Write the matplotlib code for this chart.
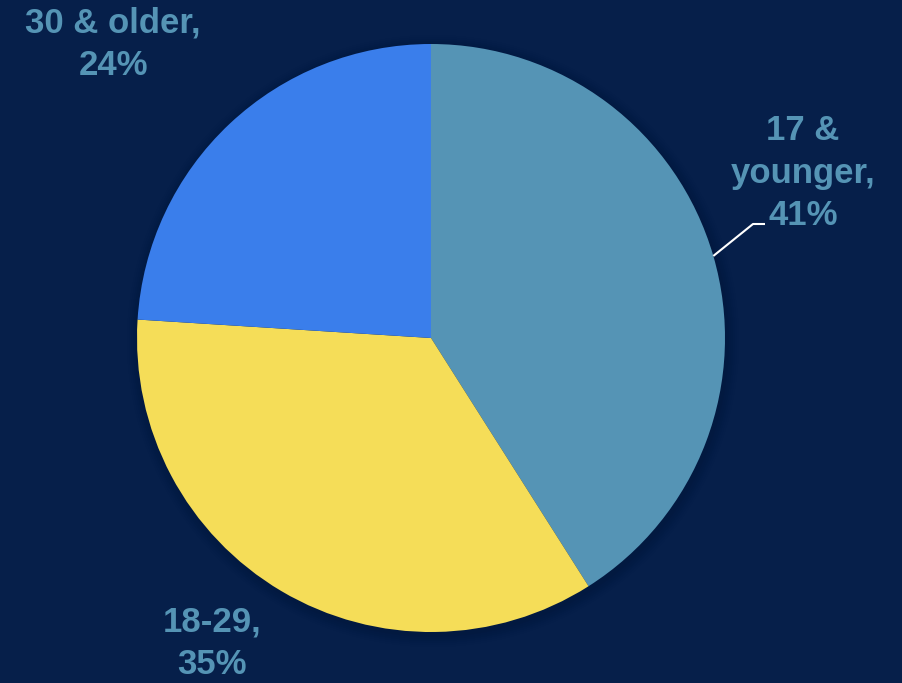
import numpy as np
import matplotlib.pyplot as plt

groups = ['17 &\nyounger', '18-29', '30 & older']
shares = [41, 35, 24]
colors = ['#5594B5', '#F5DD58', '#3A7EEB']
bg = '#061F4A'
label_color = '#5594B5'

fig = plt.figure(figsize=(9.02, 6.83), dpi=100, facecolor=bg)
ax = fig.add_axes([0, 0, 1, 1])
ax.set_facecolor(bg)

cx, cy, r = 431, 345, 294

# soft dark halo behind the pie
for i, a in enumerate(np.linspace(0.05, 0.01, 6)):
    ax.add_patch(plt.Circle((cx + 2, cy - 3), r + 2 + i * 2, color='#020C22', alpha=a, lw=0))

wedges, _ = ax.pie(shares, colors=colors, startangle=90, counterclock=False,
                   center=(cx, cy), radius=r, frame=True,
                   wedgeprops=dict(linewidth=0))
ax.set_xlim(0, 902)
ax.set_ylim(0, 683)
ax.set_aspect('equal')
ax.axis('off')

font = dict(family=['Liberation Sans', 'DejaVu Sans'], fontsize=25,
            fontweight='bold', color=label_color, ha='center', va='center',
            linespacing=1.38)

ax.text(803, 683 - 173, '%s,\n%d%%' % (groups[0], shares[0]), **font)
ax.text(212, 683 - 643, '%s,\n%d%%' % (groups[1], shares[1]), **font)
ax.text(113, 683 - 44, '%s,\n%d%%' % (groups[2], shares[2]), **font)

# leader line for the first slice, from its mid-angle on the rim
mid = np.deg2rad(90 - shares[0] / 100 * 360 / 2)
x0, y0 = cx + r * np.cos(mid), cy + r * np.sin(mid)
ax.plot([x0, 753, 765], [y0, 683 - 224, 683 - 224], color='white', lw=1.5,
        solid_capstyle='butt')

fig.savefig('out.png', dpi=100, facecolor=bg)
